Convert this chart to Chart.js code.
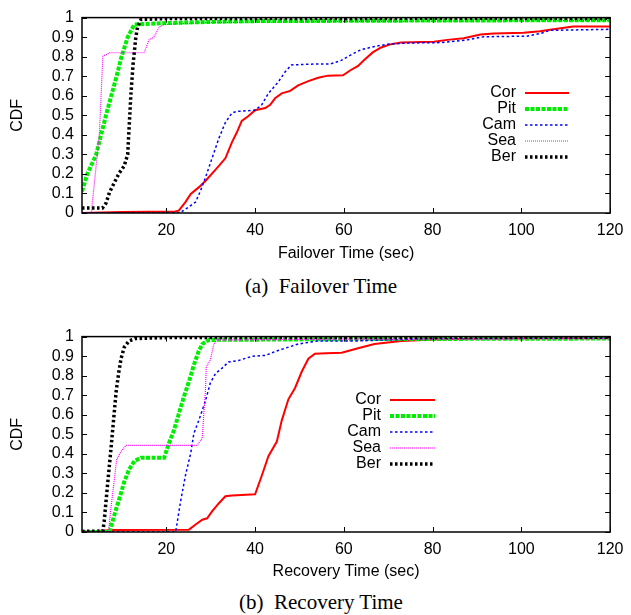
<!DOCTYPE html>
<html>
<head>
<meta charset="utf-8">
<script src="https://cdn.jsdelivr.net/npm/chart.js@4.4.1/dist/chart.umd.min.js"></script>
<style>
  body { margin: 0; background: #fff; width: 631px; height: 615px; position: relative; overflow: hidden; }
  canvas { position: absolute; left: 0; }
  .cap { position: absolute; left: 0; width: 642px; text-align: center;
         font-family: "Liberation Serif", "Times New Roman", serif; font-size: 21px; color: #000; }
</style>
</head>
<body>
<canvas id="failChart" width="631" height="268" style="top:0"></canvas>
<div class="cap" style="top:274px">(a)&ensp;Failover Time</div>
<canvas id="recChart" width="631" height="267" style="top:319px"></canvas>
<div class="cap" style="top:590px">(b)&ensp;Recovery Time</div>

<script>
// series names, in legend order
const seriesNames = ['Cor', 'Pit', 'Cam', 'Sea', 'Ber'];

// axis ticks
const xTicks = [20, 40, 60, 80, 100, 120];
const yTicks = [0, 0.1, 0.2, 0.3, 0.4, 0.5, 0.6, 0.7, 0.8, 0.9, 1];

// (a) failover time, seconds / CDF
const failCorT = [1, 10, 22, 22.8, 24.3, 25.5, 27.3, 28.8, 31.1, 33.3, 34.8, 35.9, 37, 38.5, 40, 42.3, 43.4, 44.5, 46, 47.9, 49.7, 52, 54.2, 56.4, 59.8, 61.3, 63.2, 64.7, 66.5, 68.4, 70.6, 72.9, 80.3, 83.3, 87, 90.8, 93.8, 100.5, 104.2, 107.2, 111.7, 120];
const failCorY = [0, 0.005, 0.008, 0.012, 0.056, 0.098, 0.131, 0.164, 0.222, 0.28, 0.363, 0.413, 0.471, 0.496, 0.526, 0.537, 0.554, 0.587, 0.612, 0.625, 0.653, 0.675, 0.692, 0.703, 0.705, 0.728, 0.753, 0.786, 0.822, 0.847, 0.864, 0.872, 0.877, 0.886, 0.894, 0.914, 0.918, 0.922, 0.93, 0.94, 0.955, 0.955];
const failPitT = [1, 2.2, 4.2, 5.3, 6.4, 7.6, 8.8, 9.9, 11.3, 12.8, 20, 30, 40, 80, 120];
const failPitY = [0.11, 0.2, 0.3, 0.4, 0.5, 0.6, 0.7, 0.8, 0.9, 0.965, 0.972, 0.978, 0.982, 0.985, 0.987];
const failCamT = [1, 23, 25, 26.6, 27.7, 28.8, 30.3, 31.8, 33.3, 34.8, 35.9, 40, 41.5, 43, 45.2, 46.7, 48.2, 54.2, 57, 59.4, 61.7, 63.9, 66.9, 69.9, 74.4, 81.8, 87.8, 91.5, 101.2, 104.2, 106.5, 120];
const failCamY = [0, 0, 0.03, 0.056, 0.114, 0.18, 0.28, 0.38, 0.463, 0.512, 0.52, 0.526, 0.554, 0.612, 0.67, 0.72, 0.758, 0.763, 0.763, 0.781, 0.811, 0.836, 0.852, 0.864, 0.87, 0.872, 0.886, 0.902, 0.905, 0.918, 0.935, 0.94];
const failSeaT = [1, 3.1, 4.9, 5.7, 7.2, 15, 16.1, 17.2, 18.4, 19.5, 30, 60, 120];
const failSeaY = [0, 0, 0.4, 0.802, 0.82, 0.82, 0.886, 0.9, 0.952, 0.965, 0.975, 0.98, 0.985];
const failBerT = [1, 5.6, 6.4, 7.2, 8.3, 9.4, 10.5, 11.3, 11.6, 12.0, 12.5, 13.1, 13.5, 14.3, 20, 120];
const failBerY = [0.025, 0.025, 0.05, 0.106, 0.156, 0.205, 0.24, 0.3, 0.43, 0.6, 0.76, 0.894, 0.95, 0.99, 0.995, 0.997];

// (b) recovery time, seconds / CDF
const recCorT = [1, 7.9, 25.1, 26.6, 28.1, 29.2, 30.3, 31.8, 33.3, 34.8, 40, 41.5, 43, 44.9, 46, 47.5, 49, 50.5, 52, 53.5, 56, 59.5, 63.2, 66.9, 72.9, 80.3, 93, 120];
const recCorY = [0, 0.01, 0.012, 0.038, 0.063, 0.07, 0.105, 0.146, 0.183, 0.187, 0.193, 0.288, 0.388, 0.463, 0.57, 0.679, 0.737, 0.82, 0.887, 0.912, 0.915, 0.917, 0.94, 0.962, 0.978, 0.985, 0.99, 0.992];
const recPitT = [1, 7.2, 8.3, 9.4, 10.5, 11.6, 12.8, 14.3, 19.5, 20.6, 21.7, 22.8, 24.0, 25.1, 26.2, 27.2, 28.1, 29.6, 60, 120];
const recPitY = [0, 0, 0.088, 0.17, 0.255, 0.32, 0.363, 0.38, 0.38, 0.454, 0.52, 0.604, 0.695, 0.77, 0.854, 0.92, 0.962, 0.983, 0.987, 0.99];
const recCamT = [1, 22.1, 23.2, 24.3, 25.5, 26.2, 27.3, 28.8, 29.9, 31.1, 32.5, 34.0, 36.3, 39.3, 42.3, 45.2, 49.7, 54.2, 63, 80.3, 120];
const recCamY = [0, 0, 0.155, 0.288, 0.404, 0.504, 0.57, 0.67, 0.762, 0.812, 0.837, 0.87, 0.878, 0.899, 0.904, 0.929, 0.962, 0.978, 0.978, 0.99, 0.992];
const recSeaT = [1, 6.5, 7.0, 7.5, 8.3, 8.8, 9.8, 10.9, 26.9, 28.1, 28.4, 28.8, 29.0, 29.9, 30.7, 31.4, 60, 120];
const recSeaY = [0, 0, 0.005, 0.12, 0.27, 0.37, 0.413, 0.443, 0.443, 0.48, 0.59, 0.72, 0.845, 0.88, 0.962, 0.983, 0.987, 0.99];
const recBerT = [1, 5.7, 6.0, 6.4, 7.0, 7.5, 7.9, 8.3, 8.7, 9.3, 9.8, 10.5, 11.6, 13.1, 20, 120];
const recBerY = [0.003, 0.005, 0.055, 0.155, 0.3, 0.42, 0.52, 0.62, 0.72, 0.82, 0.887, 0.945, 0.978, 0.99, 0.995, 0.997];

// line styles, gnuplot-like
const styles = {
  Cor: { color: '#ff0000', width: 2, dash: [] },
  Pit: { color: '#00ee00', width: 4, dash: [4, 1.5] },
  Cam: { color: '#0000ff', width: 1.5, dash: [2.5, 2.5] },
  Sea: { color: '#ff00ff', width: 1.2, dash: [1, 1] },
  Ber: { color: '#000000', width: 3.5, dash: [2.5, 2.5] }
};

Chart.defaults.color = '#000';
Chart.defaults.font.family = '"Liberation Sans", Arial, Helvetica, sans-serif';
Chart.defaults.font.size = 16;

function toPoints(ts, ys) {
  return ts.map((t, i) => ({ x: t, y: ys[i] }));
}

// frame with inward tick marks on all four sides
const framePlugin = {
  id: 'frame',
  afterDraw(chart) {
    const { ctx, chartArea: a, scales } = chart;
    ctx.save();
    ctx.strokeStyle = '#000';
    ctx.lineWidth = 1.5;
    ctx.setLineDash([]);
    ctx.strokeRect(a.left, a.top, a.right - a.left, a.bottom - a.top);
    ctx.lineWidth = 1;
    const len = 5;
    ctx.beginPath();
    scales.x.ticks.forEach(t => {
      const px = Math.round(scales.x.getPixelForValue(t.value)) + 0.5;
      ctx.moveTo(px, a.bottom); ctx.lineTo(px, a.bottom - len);
      ctx.moveTo(px, a.top); ctx.lineTo(px, a.top + len);
    });
    scales.y.ticks.forEach(t => {
      const py = Math.round(scales.y.getPixelForValue(t.value)) + 0.5;
      ctx.moveTo(a.left, py); ctx.lineTo(a.left + len, py);
      ctx.moveTo(a.right, py); ctx.lineTo(a.right - len, py);
    });
    ctx.stroke();
    ctx.restore();
  }
};

// key inside the plot: label right-aligned, sample line to its right
const keyPlugin = {
  id: 'key',
  afterDatasetsDraw(chart, args, opts) {
    const { ctx } = chart;
    ctx.save();
    ctx.font = '16px "Liberation Sans", Arial, sans-serif';
    ctx.textAlign = 'right';
    ctx.textBaseline = 'middle';
    chart.data.datasets.forEach((ds, i) => {
      const y = opts.top + i * opts.gap;
      ctx.fillStyle = '#000';
      ctx.fillText(ds.label, opts.lineLeft - 9, y);
      ctx.strokeStyle = ds.borderColor;
      ctx.lineWidth = ds.borderWidth;
      ctx.setLineDash(ds.borderDash);
      ctx.beginPath();
      ctx.moveTo(opts.lineLeft, y);
      ctx.lineTo(opts.lineRight, y);
      ctx.stroke();
    });
    ctx.restore();
  }
};

function makeChart(id, xTitle, series, key) {
  const datasets = seriesNames.map((name, i) => ({
    label: name,
    data: toPoints(series[i][0], series[i][1]),
    borderColor: styles[name].color,
    borderWidth: styles[name].width,
    borderDash: styles[name].dash,
    pointRadius: 0,
    tension: 0,
    fill: false,
    order: seriesNames.length - i
  }));

  const canvas = document.getElementById(id);
  new Chart(canvas.getContext('2d'), {
    type: 'line',
    data: { datasets: datasets },
    options: {
      responsive: false,
      animation: false,
      devicePixelRatio: 1,
      layout: { padding: { top: 12, right: 18, left: 0, bottom: 0 } },
      plugins: {
        legend: { display: false },
        tooltip: { enabled: false },
        key: key
      },
      scales: {
        x: {
          type: 'linear',
          min: 1,
          max: 120,
          grid: { display: false, drawTicks: false },
          border: { display: false },
          ticks: { padding: 7.5, maxRotation: 0, autoSkip: false },
          afterBuildTicks: s => { s.ticks = xTicks.map(v => ({ value: v })); },
          afterFit: s => { s.height = canvas.height - 12 - 201; },
          title: { display: true, text: xTitle, padding: { top: 4, bottom: 4.5 } }
        },
        y: {
          min: 0,
          max: 1,
          grid: { display: false, drawTicks: false },
          border: { display: false },
          ticks: { padding: 8, autoSkip: false, callback: v => String(+v.toFixed(1)) },
          afterBuildTicks: s => { s.ticks = yTicks.map(v => ({ value: v })); },
          afterFit: s => { s.width = 82; },
          title: { display: true, text: 'CDF', padding: { top: 7.5, bottom: 4 } }
        }
      }
    },
    plugins: [framePlugin, keyPlugin]
  });
}

makeChart('failChart', 'Failover Time (sec)', [
  [failCorT, failCorY], [failPitT, failPitY], [failCamT, failCamY],
  [failSeaT, failSeaY], [failBerT, failBerY]
], { lineLeft: 525, lineRight: 569, top: 93, gap: 16 });

makeChart('recChart', 'Recovery Time (sec)', [
  [recCorT, recCorY], [recPitT, recPitY], [recCamT, recCamY],
  [recSeaT, recSeaY], [recBerT, recBerY]
], { lineLeft: 390, lineRight: 435, top: 81, gap: 16 });
</script>
</body>
</html>
